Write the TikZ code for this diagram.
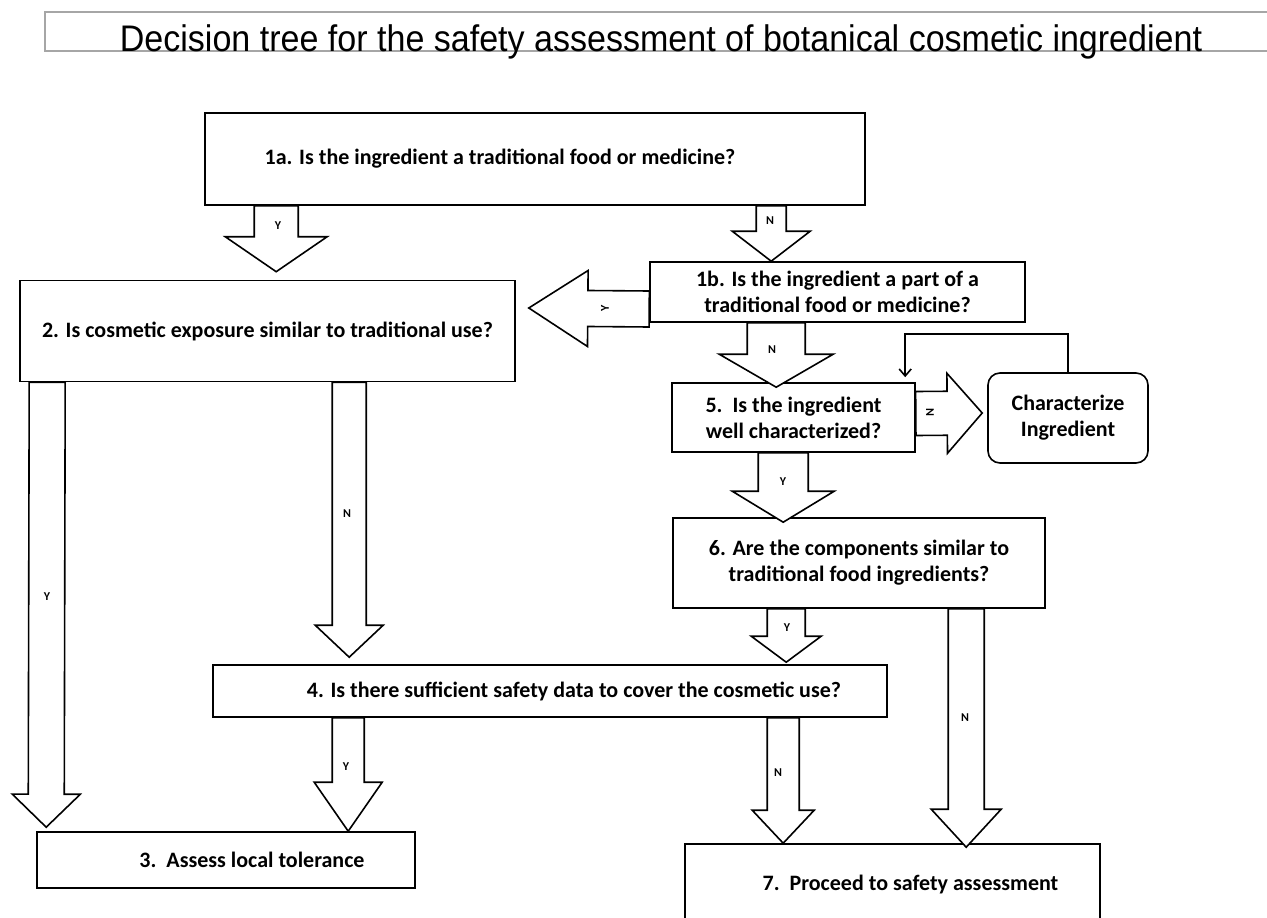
\documentclass[tikz,border=0pt]{standalone}
\usepackage{fontspec}
\setmainfont{Carlito}
\newfontfamily\titlefont{Liberation Sans}
\usetikzlibrary{calc,arrows.meta}

\tikzset{
	qbox/.style={draw, line width=1.6pt, align=center, inner sep=2pt,
		font=\bfseries\fontsize{22}{26}\selectfont},
	blk/.style={draw, line width=1.6pt, fill=white, line join=miter},
	yn/.style={inner sep=0pt, font=\bfseries\fontsize{12}{14}\selectfont},
}

% block arrow: start, tip, half shaft, half head, head length
\newcommand{\blockarrow}[5]{%
	\coordinate (hb) at ($(#2)!#5!(#1)$);
	\draw[blk] ($(#1)!#3!90:(#2)$) -- ($(hb)!#3!90:(#2)$) -- ($(hb)!#4!90:(#2)$)
		-- (#2) -- ($(hb)!#4!-90:(#2)$) -- ($(hb)!#3!-90:(#2)$) -- ($(#1)!#3!-90:(#2)$) -- cycle;
}

\begin{document}
\begin{tikzpicture}[x=1pt,y=-1pt]
	\useasboundingbox (0,0) rectangle (1267,918);
	\clip (0,0) rectangle (1267,918);

	% title
	\draw[gray!70, line width=1.2pt] (1267,12) -- (45,12) -- (45,51) -- (1267,51);
	\node[inner sep=0pt, anchor=base] (title) at (661,51) {\titlefont\fontsize{37}{40}\selectfont\scalebox{0.92}[1]{Decision tree for the safety assessment of botanical cosmetic ingredient}};

	% boxes
	\node[qbox, minimum width=660pt, minimum height=92pt] (q1a) at (535,159) {1a. Is the ingredient a traditional food or medicine?\hspace*{70pt}};
	\node[qbox, minimum width=375pt, minimum height=60pt] (q1b) at (837.5,292) {1b. Is the ingredient a part of a\\traditional food or medicine?};
	\node[qbox, minimum width=495pt, minimum height=101pt] (q2) at (267.5,331) {2. Is cosmetic exposure similar to traditional use?};
	\node[qbox, minimum width=243pt, minimum height=69pt] (q5) at (793.5,417.5) {5.\ \ Is the ingredient\\well characterized?};
	\node[qbox, rounded corners=12pt, minimum width=160pt, minimum height=90pt] (ci) at (1068,418) {Characterize\\Ingredient};
	\node[qbox, minimum width=372pt, minimum height=90pt] (q6) at (859,563) {6. Are the components similar to\\traditional food ingredients?};
	\node[qbox, minimum width=674pt, minimum height=52pt] (q4) at (550,691) {\hspace*{48pt}4. Is there sufficient safety data to cover the cosmetic use?};
	\node[qbox, minimum width=378pt, minimum height=56pt] (q3) at (226,860) {\hspace*{52pt}3.\ \ Assess local tolerance};
	\node[qbox, minimum width=415pt, minimum height=82pt] (q7) at (892.5,885) {\hspace*{36pt}7.\ \ Proceed to safety assessment};

	% arrow ends
	\coordinate (a1s) at ($(q1a.south west)+(72,0)$);
	\coordinate (a1e) at ($(q2.north west)+(257,-8)$);
	\coordinate (a2s) at ($(q1a.south west)+(567,0)$);
	\coordinate (a2e) at ($(q1b.north west)+(122,0)$);
	\coordinate (a3s) at ($(q1b.west)+(0,17)$);
	\coordinate (a3e) at ($(q2.east)+(13,-23)$);
	\coordinate (a4s) at ($(q1b.south west)+(127,0)$);
	\coordinate (a4e) at ($(q5.north west)+(105,5)$);
	\coordinate (a5s) at ($(q5.east)+(0,-4)$);
	\coordinate (a5e) at ($(ci.west)+(-5,-5)$);
	\coordinate (a6s) at ($(q5.south west)+(112,0)$);
	\coordinate (a6e) at ($(q6.north west)+(111,5)$);
	\coordinate (a7s) at ($(q6.south west)+(114,0)$);
	\coordinate (a7e) at ($(q4.north west)+(574,-2)$);
	\coordinate (a8s) at ($(q6.south west)+(294,0)$);
	\coordinate (a8e) at ($(q7.north west)+(282,4)$);
	\coordinate (a9s) at ($(q2.south west)+(28,0)$);
	\coordinate (a9e) at ($(q3.north west)+(10,-4)$);
	\coordinate (a10s) at ($(q2.south west)+(330,0)$);
	\coordinate (a10e) at ($(q4.north west)+(137,-7)$);
	\coordinate (a11s) at ($(q4.south west)+(136,0)$);
	\coordinate (a11e) at ($(q3.north west)+(312,0)$);
	\coordinate (a12s) at ($(q4.south west)+(571,0)$);
	\coordinate (a12e) at ($(q7.north west)+(99,0)$);

	% block arrows
	\blockarrow{a1s}{a1e}{22pt}{51pt}{35pt}
	\blockarrow{a2s}{a2e}{15pt}{39pt}{30pt}
	\blockarrow{a3s}{a3e}{18pt}{38pt}{59pt}
	\blockarrow{a4s}{a4e}{29pt}{57pt}{33pt}
	\blockarrow{a5s}{a5e}{22pt}{40pt}{35pt}
	\blockarrow{a6s}{a6e}{25pt}{51pt}{31pt}
	\blockarrow{a7s}{a7e}{19pt}{35pt}{26pt}
	\blockarrow{a8s}{a8e}{18pt}{35pt}{38pt}
	\blockarrow{a9s}{a9e}{18pt}{34pt}{33pt}
	\blockarrow{a10s}{a10e}{17pt}{34pt}{32pt}
	\blockarrow{a11s}{a11e}{16pt}{34pt}{49pt}
	\blockarrow{a12s}{a12e}{16pt}{31pt}{33pt}

	% feedback loop
	\coordinate (fbt) at ($(q5.north west)+(234,-5)$);
	\draw[line width=1.6pt, -{Straight Barb[length=7pt,width=12pt]}] (ci.north) -- ++(0,-38) -| (fbt);

	% labels
	\node[yn] (l1) at (278,226) {Y};
	\node[yn] (l2) at (770,221) {N};
	\node[yn, rotate=90] (l3) at (605,308) {Y};
	\node[yn] (l4) at (772,350) {N};
	\node[yn, rotate=-90] (l5) at (930,412) {N};
	\node[yn] (l6) at (783,482) {Y};
	\node[yn] (l7) at (787,628) {Y};
	\node[yn] (l8) at (965,718) {N};
	\node[yn] (l9) at (47,597) {Y};
	\node[yn] (l10) at (347,514) {N};
	\node[yn] (l11) at (346,767) {Y};
	\node[yn] (l12) at (778,773) {N};
\end{tikzpicture}
\end{document}
